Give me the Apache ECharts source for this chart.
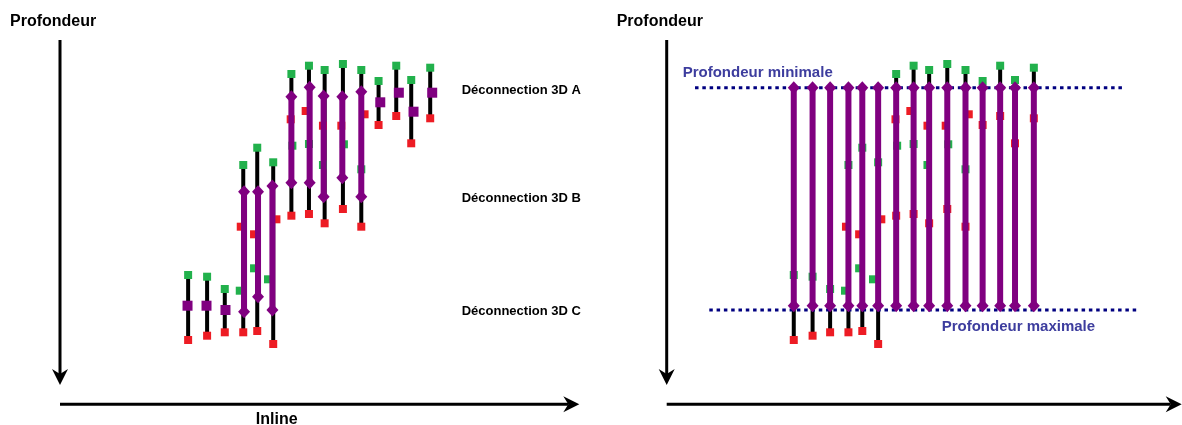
<!DOCTYPE html>
<html><head><meta charset="utf-8">
<script src="https://cdn.jsdelivr.net/npm/echarts@6/dist/echarts.min.js"></script>
<style>html,body{margin:0;padding:0;background:#fff}#c{width:1182px;height:425px}</style>
</head><body><div id="c"></div>
<script>
// ---- Data (inline position, depth below top of depth axis) ----
const inline = [128.3, 147.3, 165, 183.5, 197.5, 213.5, 231.7, 249.3, 265, 283.3, 301.7, 319, 336.7, 351.7, 370.7];
const topGreen = [235, 236.7, 249, 125, 107.7, 122.3, 34, 25.7, 30, 24, 30, 41, 25.7, 40, 27.7];
const bottomRed = [300, 295.7, 292.3, 292.3, 291, 304, 175.7, 174, 183.3, 169, 186.7, 85, 76, 103.3, 78.3];
// inner horizon markers (columns 4 to 11, two units)
const innerRedX = [181, 194.3, 216.7, 231, 246, 263.3, 281.7, 305];
const innerRedD = [186.7, 194.3, 179.3, 79.3, 71, 85.7, 85.7, 74.3];
const innerGreenX = [180, 194.3, 208.3, 232.7, 249.3, 263.3, 284.3, 301.7];
const innerGreenD = [250.7, 228.3, 239.3, 105.7, 104, 125, 104.3, 129.3];
// left panel: single-unit midpoints (purple squares)
const midX = [127.7, 146.7, 165.7, 320.7, 339.3, 354, 372.7];
const midD = [265.7, 265.7, 270, 62.3, 52.7, 71.7, 52.7];
// left panel: disconnection bars (purple)
const discX = [184.3, 198.3, 212.7, 231.7, 250, 264, 282.7, 301.7];
const discTop = [151.7, 151.7, 146, 56.7, 47.3, 56, 56.7, 51.7];
const discBottom = [271.7, 256.7, 270, 142.7, 142.7, 156.7, 137.7, 156.7];
// right panel: min / max depth
const minDepth = 47.7, maxDepthBar = 265.7, maxDepthLine = 270;
const minLineX = [28.6, 461];
const maxLineX = [43, 475.2];
// axis arrows
const depthArrow = [0, 345];
const inlineArrow = [0, 520];
const inlineAxisDepth = 364.3;
// texts
const depthTitle = 'Profondeur';
const inlineTitle = 'Inline';
const discLabels = ['Déconnection 3D A', 'Déconnection 3D B', 'Déconnection 3D C'];
const minLabel = 'Profondeur minimale';
const maxLabel = 'Profondeur maximale';

const GREEN = '#22b14c', RED = '#ed1c24', PURPLE = '#800080', NAVY = '#000080', LBL = '#3d3d9e';
const FONT = '"Liberation Sans", Arial, sans-serif';

function vSeg(color, width, dx) {
  return function (params, api) {
    const p1 = api.coord([api.value(0), api.value(1)]);
    const p2 = api.coord([api.value(0), api.value(2)]);
    return { type: 'line', shape: { x1: p1[0] + (dx || 0), y1: p1[1], x2: p2[0] + (dx || 0), y2: p2[1] },
      style: { stroke: color, lineWidth: width } };
  };
}
function hDots(params, api) {
  const p1 = api.coord([api.value(0), api.value(2)]);
  const p2 = api.coord([api.value(1), api.value(2)]);
  return { type: 'line', shape: { x1: p1[0], y1: p1[1], x2: p2[0], y2: p2[1] },
    style: { stroke: NAVY, lineWidth: 3, lineDash: [3.5, 3.8] } };
}
function arrow(params, api) {
  const p1 = api.coord([api.value(0), api.value(1)]);
  const p2 = api.coord([api.value(2), api.value(3)]);
  const dx = p2[0] - p1[0], dy = p2[1] - p1[1];
  const L = Math.sqrt(dx * dx + dy * dy), ux = dx / L, uy = dy / L, nx = -uy, ny = ux;
  const hl = 16, hw = 8, notch = 11;
  const base = [p2[0] - ux * notch, p2[1] - uy * notch];
  return { type: 'group', children: [
    { type: 'line', shape: { x1: p1[0], y1: p1[1], x2: base[0], y2: base[1] }, style: { stroke: '#000', lineWidth: 3 } },
    { type: 'polygon', shape: { points: [
      [p2[0], p2[1]],
      [p2[0] - ux * hl + nx * hw, p2[1] - uy * hl + ny * hw],
      base,
      [p2[0] - ux * hl - nx * hw, p2[1] - uy * hl - ny * hw]
    ] }, style: { fill: '#000' } }
  ] };
}

const stems = inline.map((x, i) => [x, topGreen[i], bottomRed[i]]);
const greens = inline.map((x, i) => [x, topGreen[i]]).concat(innerGreenX.map((x, i) => [x, innerGreenD[i]]));
const reds = inline.map((x, i) => [x, bottomRed[i]]).concat(innerRedX.map((x, i) => [x, innerRedD[i]]));
const discBars = discX.map((x, i) => [x, discTop[i], discBottom[i]]);
const discEnds = discX.map((x, i) => [x, discTop[i]]).concat(discX.map((x, i) => [x, discBottom[i]]));
const fullBars = inline.map(x => [x, minDepth, maxDepthBar]);
const fullEnds = inline.map(x => [x, minDepth]).concat(inline.map(x => [x, maxDepthBar]));
const arrows = [[depthArrow[0], 0, depthArrow[0], depthArrow[1]], [inlineArrow[0], inlineAxisDepth, inlineArrow[1], inlineAxisDepth]];

function sc(color, symbol, size, data, z, ax) {
  return Object.assign({ type: 'scatter', symbol: symbol, symbolSize: size, itemStyle: { color: color, opacity: 1 },
    emphasis: { disabled: true }, data: data, z: z, silent: true }, ax);
}

function panelSeries(g, right) {
  const ax = { xAxisIndex: g, yAxisIndex: g };
  const s = [
    Object.assign({ type: 'custom', renderItem: arrow, data: arrows, z: 1, silent: true }, ax),
    Object.assign({ type: 'custom', renderItem: vSeg('#000', 4), data: stems, z: 2, silent: true }, ax),
    sc(GREEN, 'rect', 8, greens, 3, ax),
    sc(RED, 'rect', 8, reds, 3, ax)
  ];
  if (!right) {
    s.push(sc(PURPLE, 'rect', 10, midX.map((x, i) => [x, midD[i]]), 4, ax));
    s.push(Object.assign({ type: 'custom', renderItem: vSeg(PURPLE, 6), data: discBars, z: 4, silent: true }, ax));
    s.push(sc(PURPLE, 'diamond', [12, 13], discEnds, 5, ax));
  } else {
    s.push(Object.assign({ type: 'custom', renderItem: hDots, data: [[minLineX[0], minLineX[1], minDepth], [maxLineX[0], maxLineX[1], maxDepthLine]], z: 3, silent: true }, ax));
    s.push(Object.assign({ type: 'custom', renderItem: vSeg(PURPLE, 6), data: fullBars, z: 4, silent: true }, ax));
    s.push(sc(PURPLE, 'diamond', [12, 13], fullEnds, 5, ax));
  }
  return s;
}

function txt(text, x, y, size, color, align) {
  return { type: 'text', x: x, y: y, silent: true, style: { text: text, font: 'bold ' + size + 'px ' + FONT, fill: color,
    align: align || 'left', verticalAlign: 'middle', textAlign: align || 'left', textVerticalAlign: 'middle' } };
}

const yAx = { type: 'value', min: 0, max: 365, inverse: true, show: false };
const xAx = { type: 'value', min: 0, max: 520, show: false };
const option = {
  animation: false,
  backgroundColor: '#fff',
  grid: [
    { left: 60, top: 40, width: 519.3, height: 365 },
    { left: 666.7, top: 40, width: 515, height: 365 }
  ],
  xAxis: [Object.assign({ gridIndex: 0 }, xAx), Object.assign({ gridIndex: 1 }, xAx)],
  yAxis: [Object.assign({ gridIndex: 0 }, yAx), Object.assign({ gridIndex: 1 }, yAx)],
  series: panelSeries(0, false).concat(panelSeries(1, true)),
  graphic: [
    txt(depthTitle, 10, 21.5, 16, '#000'),
    txt(depthTitle, 616.7, 21.5, 16, '#000'),
    txt(inlineTitle, 276.7, 419.5, 16, '#000', 'center'),
    txt(discLabels[0], 461.7, 90, 13, '#000'),
    txt(discLabels[1], 461.7, 198.3, 13, '#000'),
    txt(discLabels[2], 461.7, 311.7, 13, '#000'),
    txt(minLabel, 682.7, 72.5, 15, LBL),
    txt(maxLabel, 941.7, 327, 15, LBL)
  ]
};
const chart = echarts.init(document.getElementById('c'));
chart.setOption(option);
</script>
</body></html>
